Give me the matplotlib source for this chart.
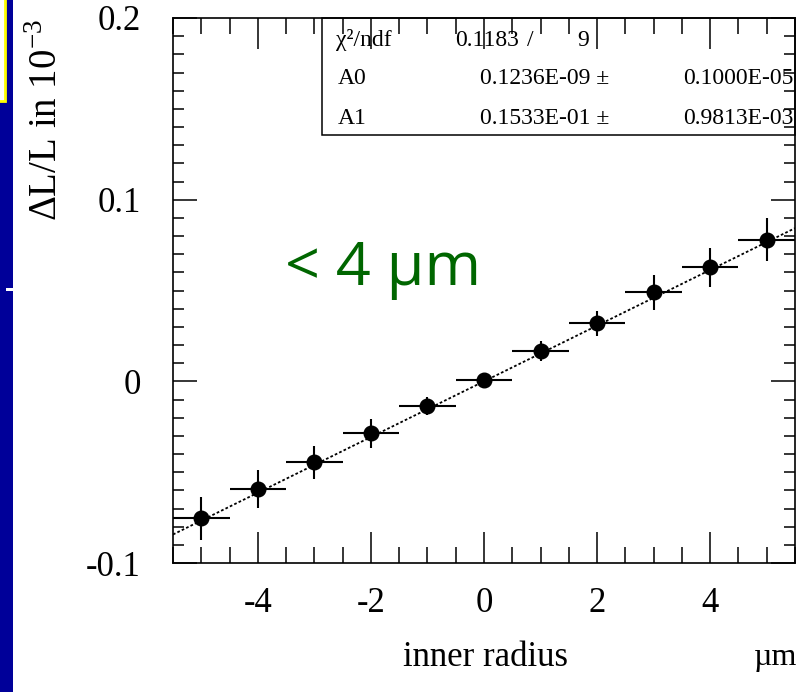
import matplotlib
matplotlib.use("Agg")
import matplotlib.pyplot as plt
from matplotlib.patches import Rectangle
from matplotlib.ticker import MultipleLocator
import numpy as np

# data
radius = [-5, -4, -3, -2, -1, 0, 1, 2, 3, 4, 5]
dl_over_l = [-0.0755, -0.0594, -0.0446, -0.0286, -0.0138, 0.0005,
             0.0165, 0.0320, 0.0490, 0.0627, 0.0780]
y_err = [0.012, 0.0105, 0.009, 0.008, 0.005, 0.003,
         0.0055, 0.0068, 0.0095, 0.0107, 0.012]
x_err = [0.5] * len(radius)

# fit parameters (from the stats box)
fit_a0 = 0.1236e-09
fit_a1 = 0.1533e-01
stats_rows = [("A0", "0.1236E-09 \u00b1", "0.1000E-05"),
              ("A1", "0.1533E-01 \u00b1", "0.9813E-03")]
chi2_text = ["\u03c7\u00b2/ndf", "0.1183", "/", "9"]

W, H = 801, 692
plt.rcParams['font.family'] = ['Liberation Serif', 'DejaVu Serif']
plt.rcParams['mathtext.fontset'] = 'custom'
plt.rcParams['mathtext.rm'] = 'Liberation Serif'


def fx(px):
    return px / W


def fy(py):
    return 1 - py / H


fig = plt.figure(figsize=(W / 100, H / 100), dpi=100)
ax = fig.add_axes([fx(173), fy(563), (795 - 173) / W, (563 - 18) / H])

# fit line across the full range
xl = np.array([-5.5, 5.5])
ax.plot(xl, fit_a0 + fit_a1 * xl, color='black', lw=1.3,
        linestyle=(0, (1.5, 1.2)), zorder=2)

ax.errorbar(radius, dl_over_l, xerr=x_err, yerr=y_err, fmt='o', color='black',
            ms=10.5, elinewidth=1.5, capsize=0, zorder=3)

ax.set_xlim(-5.5, 5.5)
ax.set_ylim(-0.1, 0.2)
ax.xaxis.set_minor_locator(MultipleLocator(0.5))
ax.yaxis.set_minor_locator(MultipleLocator(0.01))
ax.set_yticks([-0.1, 0, 0.1, 0.2])
ax.set_yticklabels(['-0.1', '0', '0.1', '0.2'])
ax.set_xticks([-4, -2, 0, 2, 4])
ax.set_xticklabels(['-4', '-2', '0', '2', '4'])

ax.tick_params(axis='x', which='major', direction='in', top=True, bottom=True,
               length=22, width=1.1, labelsize=25, pad=17)
ax.tick_params(axis='x', which='minor', direction='in', top=True, bottom=True,
               length=11.5, width=1.1)
ax.tick_params(axis='y', which='major', direction='in', left=True, right=True,
               length=17, width=1.1, labelsize=25, pad=23)
ax.tick_params(axis='y', which='minor', direction='in', left=True, right=True,
               length=8, width=1.1)
for s in ax.spines.values():
    s.set_linewidth(1.2)

# stats box, under the ticks
ax.add_patch(Rectangle((0.2395, 0.785), 1 - 0.2395, 0.215, transform=ax.transAxes,
                       facecolor='white', edgecolor='black', lw=1.1,
                       zorder=1, clip_on=False))
fs = 17
fig.text(fx(336), fy(40), chi2_text[0], fontsize=fs, va='center', ha='left')
fig.text(fx(455), fy(40), chi2_text[1], fontsize=fs, va='center', ha='left')
fig.text(fx(527), fy(40), chi2_text[2], fontsize=fs, va='center', ha='left')
fig.text(fx(577), fy(40), chi2_text[3], fontsize=fs, va='center', ha='left')
for (name, val, err), py in zip(stats_rows, [78, 119]):
    fig.text(fx(338), fy(py), name, fontsize=fs, va='center', ha='left')
    fig.text(fx(480), fy(py), val, fontsize=fs, va='center', ha='left')
    fig.text(fx(793), fy(py), err, fontsize=fs, va='center', ha='right')

# axis titles
fig.text(fx(48), fy(19), '\u0394L/L in 10$^{-3}$', rotation=90, fontsize=28,
         ha='center', va='top')
fig.text(fx(485), fy(658), 'inner radius', fontsize=25, ha='center', va='center')
fig.text(fx(776), fy(658), '\u00b5m', fontsize=23, ha='center', va='center')

# green annotation
fig.text(fx(285), fy(285), '< 4 \u03bcm', fontsize=44, color='#006600',
         family=['Open Sans', 'DejaVu Sans'], ha='left', va='baseline')

# slide decoration at the left edge
fig.patches.append(Rectangle((0, 0), fx(13), 1, transform=fig.transFigure,
                             facecolor='#000099', edgecolor='none'))
fig.patches.append(Rectangle((fx(-3), fy(101)), fx(8), 101 / H + 0.01,
                             transform=fig.transFigure, facecolor='white',
                             edgecolor='#ffff00', lw=2))
fig.patches.append(Rectangle((fx(6), fy(291)), fx(7), 3 / H,
                             transform=fig.transFigure, facecolor='white',
                             edgecolor='none'))

fig.savefig('out.png', dpi=100)
